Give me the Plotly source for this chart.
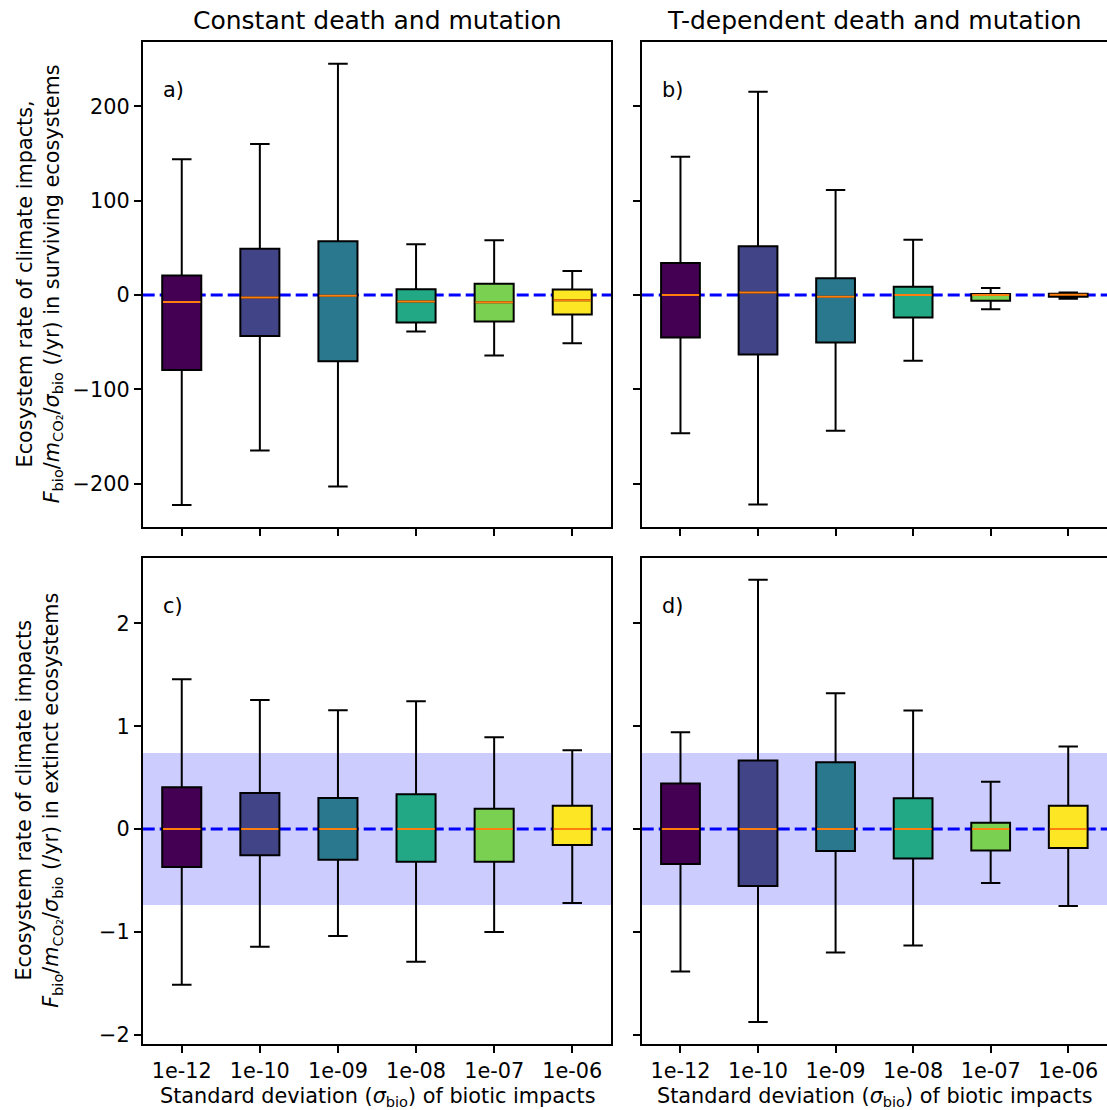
import plotly.graph_objects as go
from plotly.subplots import make_subplots

# ---------------- data ----------------
categories = ["1e-12", "1e-10", "1e-09", "1e-08", "1e-07", "1e-06"]
box_colors = ["#440154", "#414487", "#2a788e", "#22a884", "#7ad151", "#fde725"]

col_titles = ["Constant death and mutation", "T-dependent death and mutation"]
panel_labels = ["a)", "b)", "c)", "d)"]

# a) constant death & mutation, surviving ecosystems
a_lower = [-222.5, -164.9, -203.0, -38.8, -64.2, -51.2]
a_q1 = [-79.4, -43.4, -70.3, -29.3, -28.2, -20.8]
a_median = [-7.4, -2.8, -0.7, -7.0, -7.8, -5.7]
a_q3 = [20.5, 49.0, 57.0, 6.0, 12.0, 5.7]
a_upper = [143.7, 160.0, 245.0, 53.7, 58.0, 25.4]

# b) T-dependent death & mutation, surviving ecosystems
b_lower = [-146.5, -222.0, -144.0, -69.6, -15.2, -4.0]
b_q1 = [-45.2, -63.2, -50.5, -24.0, -6.0, -2.0]
b_median = [0.0, 2.5, -1.8, 0.0, 0.0, 0.3]
b_q3 = [33.9, 51.5, 17.6, 8.8, 1.0, 1.2]
b_upper = [146.5, 215.4, 111.2, 58.6, 7.4, 2.6]

# c) constant death & mutation, extinct ecosystems
c_lower = [-1.516, -1.146, -1.042, -1.292, -1.003, -0.721]
c_q1 = [-0.370, -0.256, -0.299, -0.318, -0.318, -0.156]
c_median = [0.0, 0.0, 0.0, 0.0, 0.0, 0.0]
c_q3 = [0.406, 0.351, 0.302, 0.338, 0.198, 0.227]
c_upper = [1.458, 1.256, 1.156, 1.243, 0.893, 0.766]

# d) T-dependent death & mutation, extinct ecosystems
d_lower = [-1.386, -1.877, -1.201, -1.133, -0.526, -0.750]
d_q1 = [-0.341, -0.555, -0.214, -0.286, -0.208, -0.185]
d_median = [0.0, 0.0, 0.0, 0.0, 0.0, 0.0]
d_q3 = [0.442, 0.666, 0.649, 0.299, 0.062, 0.227]
d_upper = [0.942, 2.425, 1.321, 1.153, 0.461, 0.802]

# shaded band (+/- threshold) in extinct-ecosystem panels
band_halfwidth = 0.74

# ---------------- figure ----------------
W, H = 1107, 1110
FONT = "DejaVu Sans"
FS = 20.8
BOX_W = 0.5

fig = make_subplots(rows=2, cols=2, shared_yaxes=False)

panels = [
    (1, 1, a_lower, a_q1, a_median, a_q3, a_upper),
    (1, 2, b_lower, b_q1, b_median, b_q3, b_upper),
    (2, 1, c_lower, c_q1, c_median, c_q3, c_upper),
    (2, 2, d_lower, d_q1, d_median, d_q3, d_upper),
]

positions = list(range(len(categories)))

for (r, c, lo, q1, med, q3, up) in panels:
    for i, pos in enumerate(positions):
        fig.add_trace(go.Box(
            x=[pos], lowerfence=[lo[i]], q1=[q1[i]], median=[med[i]],
            q3=[q3[i]], upperfence=[up[i]],
            fillcolor=box_colors[i], line=dict(color="black", width=2),
            width=BOX_W, whiskerwidth=0.5, boxpoints=False,
            showlegend=False, hoverinfo="skip", name=categories[i]),
            row=r, col=c)
    mx, my = [], []
    for i, pos in enumerate(positions):
        mx += [pos - BOX_W / 2 + 0.01, pos + BOX_W / 2 - 0.01, None]
        my += [med[i], med[i], None]
    fig.add_trace(go.Scatter(x=mx, y=my, mode="lines",
                             line=dict(color="#ff7f0e", width=2),
                             showlegend=False, hoverinfo="skip"),
                  row=r, col=c)

# axis ranges (matplotlib-like 5% margins)
def rng(*series):
    vals = [v for s in series for v in s]
    lo, hi = min(vals), max(vals)
    m = 0.05 * (hi - lo)
    return [lo - m, hi + m]

top_range = rng(a_lower, a_upper, b_lower, b_upper)
bot_range = rng(c_lower, c_upper, d_lower, d_upper)

# domains (pixel-derived)
xa = [142.7 / W, 611.3 / W]
xb = [641.7 / W, 1.0]
ytop = [(H - 527) / H, (H - 41.7) / H]
ybot = [(H - 1044) / H, (H - 557.7) / H]

axis_common = dict(showline=True, linecolor="black", linewidth=1.6, mirror=True,
                   ticks="outside", ticklen=7, tickwidth=1.6, tickcolor="black",
                   showgrid=False, zeroline=False, automargin=False,
                   tickfont=dict(family=FONT, size=FS, color="black"))

for (r, c) in [(1, 1), (1, 2), (2, 1), (2, 2)]:
    fig.update_xaxes(axis_common, row=r, col=c,
                     domain=xa if c == 1 else xb,
                     range=[-0.5, len(categories) - 0.5],
                     tickmode="array", tickvals=positions, ticktext=categories,
                     showticklabels=(r == 2))
    fig.update_yaxes(axis_common, row=r, col=c,
                     domain=ytop if r == 1 else ybot,
                     range=top_range if r == 1 else bot_range,
                     tickmode="linear", tick0=0, dtick=100 if r == 1 else 1,
                     showticklabels=(c == 1))

# shapes: band and zero line, below traces
axis_names = [("x", "y"), ("x2", "y2"), ("x3", "y3"), ("x4", "y4")]
for k, (xn, yn) in enumerate(axis_names):
    if k >= 2:
        fig.add_shape(type="rect", xref=f"{xn} domain", yref=yn,
                      x0=0, x1=1, y0=-band_halfwidth, y1=band_halfwidth,
                      fillcolor="rgba(0,0,255,0.2)", line=dict(width=0),
                      layer="below")
    fig.add_shape(type="line", xref=f"{xn} domain", yref=yn,
                  x0=0, x1=1, y0=0, y1=0,
                  line=dict(color="blue", width=3, dash="12px,5px"),
                  layer="below")
    fig.add_annotation(text=panel_labels[k], xref=f"{xn} domain", yref=f"{yn} domain",
                       x=0.04, y=0.9, xanchor="left", yanchor="middle",
                       showarrow=False, font=dict(family=FONT, size=FS, color="black"))

# column titles
for k, t in enumerate(col_titles):
    dom = xa if k == 0 else xb
    fig.add_annotation(text=t, xref="paper", yref="paper",
                       x=(dom[0] + dom[1]) / 2, y=1 - 20 / H,
                       xanchor="center", yanchor="middle", showarrow=False,
                       font=dict(family=FONT, size=25, color="black"))

# y titles
ylab_top = ("Ecosystem rate of climate impacts,<br>"
            "<i>F</i><sub>bio</sub>/<i>m</i><sub>CO₂</sub>/<i>σ</i><sub>bio</sub> (/yr) in surviving ecosystems")
ylab_bot = ("Ecosystem rate of climate impacts<br>"
            "<i>F</i><sub>bio</sub>/<i>m</i><sub>CO₂</sub>/<i>σ</i><sub>bio</sub> (/yr) in extinct ecosystems")
for txt, dom in [(ylab_top, ytop), (ylab_bot, ybot)]:
    fig.add_annotation(text=txt, xref="paper", yref="paper",
                       x=39 / W, y=(dom[0] + dom[1]) / 2, textangle=-90,
                       xanchor="center", yanchor="middle", showarrow=False,
                       font=dict(family=FONT, size=FS, color="black"))

# x titles
xlab = "Standard deviation (<i>σ</i><sub>bio</sub>) of biotic impacts"
for dom in [xa, xb]:
    fig.add_annotation(text=xlab, xref="paper", yref="paper",
                       x=(dom[0] + dom[1]) / 2, y=1 - 1097 / H,
                       xanchor="center", yanchor="middle", showarrow=False,
                       font=dict(family=FONT, size=FS, color="black"))

fig.update_layout(width=W, height=H, margin=dict(l=0, r=0, t=0, b=0),
                  paper_bgcolor="white", plot_bgcolor="white",
                  boxmode="overlay", showlegend=False,
                  font=dict(family=FONT, size=FS, color="black"))

fig.write_html("out.html")
